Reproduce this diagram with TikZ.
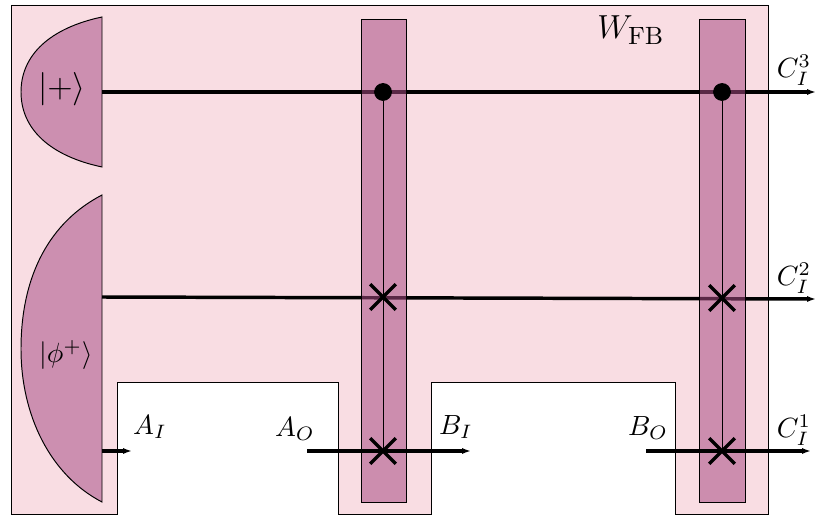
\documentclass[tikz,border=0pt]{standalone}
\usepackage{amsmath,amssymb}
\usepackage{xcolor}
\usepackage{tikz}
\usetikzlibrary{arrows.meta,shapes.misc}
\definecolor{combpink}{RGB}{249,221,227}
\definecolor{gatepurple}{RGB}{167,74,130}
\definecolor{preppurple}{RGB}{204,143,176}
\newcommand{\ketlabel}[1]{$\lvert #1\rangle$}

\begin{document}
\begin{tikzpicture}[>={Latex[length=3.2pt,width=2.2pt]},x=0.36pt,y=-0.36pt,
 wire/.style={line width=1.25pt},
 prep/.style={draw,line width=0.35pt,fill=preppurple},
 gatecol/.style={draw,line width=0.35pt,fill=gatepurple,fill opacity=0.54},
 ctrl/.style={draw,circle,fill=black,inner sep=0pt,minimum size=6pt},
 swapx/.style={cross out,draw,line width=1.25pt,inner sep=0pt,minimum size=8pt},
 lbl/.style={inner sep=0pt}]
\useasboundingbox (0,0) rectangle (816,519);

\draw[line width=0.35pt,fill=combpink] (11,5)--(768,5)--(768,514)--(675,514)--(675,382)--(431,382)--(431,514)
 --(338,514)--(338,382)--(117,382)--(117,514)--(11,514)--cycle;

\path[prep] (102,17) .. controls (50,28) and (21,55) .. (21,92) .. controls (21,129) and (50,156) .. (102,167)--cycle;
\path[prep] (102,195) .. controls (50,222) and (21,275) .. (21,349) .. controls (21,415) and (50,475) .. (102,502)--cycle;
\node[lbl] (plus) at (62,89) {\fontsize{13}{15}\selectfont\ketlabel{+}};
\node[lbl] (phi) at (66,355) {\ketlabel{\phi^+}};

\coordinate (p1) at (102,92);
\coordinate (p2) at (102,297);
\coordinate (p3) at (102,451);
\coordinate (c3) at (816,92);
\coordinate (c2) at (816,299);
\coordinate (c1) at (811,451);
\coordinate (ai) at (132,451);
\coordinate (ao) at (307,451);
\coordinate (bi) at (471,451);
\coordinate (bo) at (646,451);

\draw[->,wire] (p1)--(c3);
\draw[->,wire] (p2)--(c2);

\path[gatecol] (361,19) rectangle (406,502);
\path[gatecol] (699,19) rectangle (745,502);

\draw[->,wire] (p3)--(ai);
\draw[->,wire] (ao)--(bi);
\draw[->,wire] (bo)--(c1);

\node[ctrl] (d1) at (383,92) {};
\node[ctrl] (d2) at (722,92) {};
\node[swapx] (x1) at (383,297) {};
\node[swapx] (x2) at (722,298) {};
\node[swapx] (y1) at (383,451) {};
\node[swapx] (y2) at (722,451) {};
\draw[line width=0.3pt] (d1)--(y1.center);
\draw[line width=0.3pt] (d2)--(y2.center);

\node[lbl] (wfb) at (631,30) {\fontsize{12.8}{15}\selectfont $W_{\mathrm{FB}}$};
\node[lbl] (lai) at (150,427) {$A_I$};
\node[lbl] (lao) at (295,429) {$A_O$};
\node[lbl] (lbi) at (456,427) {$B_I$};
\node[lbl] (lbo) at (648,428) {$B_O$};
\node[lbl] (lc3) at (794,70) {$C_I^3$};
\node[lbl] (lc2) at (794,278) {$C_I^2$};
\node[lbl] (lc1) at (794,430) {$C_I^1$};
\end{tikzpicture}
\end{document}
